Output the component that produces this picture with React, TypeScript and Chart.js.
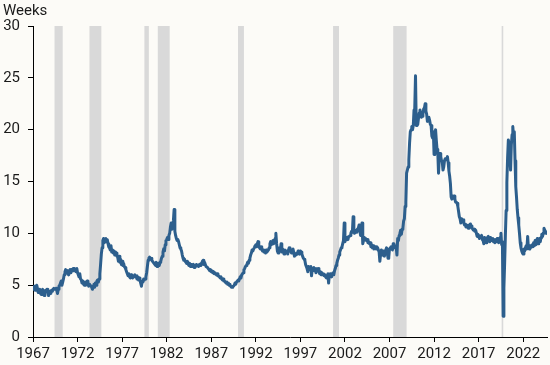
import React, { useEffect, useRef } from "react";
import { Chart, registerables } from "chart.js";

Chart.register(...registerables);

// Median duration of unemployment, weeks, monthly from Jan 1967
const firstYear = 1967;
const weeks1967to1976 = [
  4.5, 4.7, 4.6, 4.9, 4.4, 4.6, 4.8, 4.6, 4.9, 4.5, 4.7, 5.0,
  4.7, 4.3, 4.5, 4.6, 4.2, 4.1, 4.4, 4.6, 4.2, 4.0, 4.3, 4.5,
  4.4, 4.6, 4.3, 4.0, 4.3, 4.4, 4.2, 4.5, 4.4, 4.6, 4.7, 4.6,
  4.6, 4.7, 4.5, 4.2, 4.6, 4.9, 5.0, 5.2, 5.4, 5.0, 5.3, 5.6,
  6.0, 6.3, 6.5, 6.2, 6.4, 6.1, 6.0, 6.3, 6.5, 6.2, 6.4, 6.5,
  6.6, 6.4, 6.6, 6.5, 6.3, 6.6, 6.2, 6.0, 5.8, 6.1, 5.6, 5.5,
  5.2, 5.4, 5.1, 5.0, 5.3, 5.0, 5.2, 5.4, 5.1, 4.9, 5.1, 5.0,
  5.0, 4.8, 4.6, 4.9, 5.1, 4.8, 5.2, 5.0, 5.4, 5.5, 5.3, 5.6,
  6.1, 7.0, 8.0, 8.6, 9.3, 9.5, 9.1, 9.4, 9.5, 9.2, 9.4, 9.0,
  8.7, 8.6, 8.4, 8.8, 8.2, 8.4, 8.1, 8.3, 7.9, 8.2, 8.1, 7.8,
];
const weeks1977to1986 = [
  7.7, 7.3, 7.8, 7.2, 7.5, 7.0, 7.3, 6.9, 7.1, 6.8, 6.7, 6.5,
  6.3, 6.1, 5.9, 6.1, 5.8, 5.7, 6.0, 5.8, 5.7, 5.9, 5.8, 6.0,
  5.8, 5.9, 5.6, 5.8, 5.5, 5.7, 5.5, 5.2, 4.9, 5.4, 5.3, 5.6,
  5.5, 5.6, 5.8, 6.2, 6.8, 7.4, 7.6, 7.7, 7.5, 7.6, 7.4, 7.3,
  7.2, 7.1, 7.0, 6.9, 7.2, 6.8, 7.0, 7.1, 6.9, 7.2, 7.3, 7.6,
  7.8, 8.2, 8.5, 8.3, 8.9, 9.3, 9.4, 9.6, 9.4, 9.8, 10.0, 10.6,
  11.0, 10.4, 10.8, 11.2, 12.3, 10.2, 9.8, 9.5, 9.3, 9.4, 9.2, 8.9,
  8.6, 8.5, 8.3, 7.9, 7.6, 7.4, 7.5, 7.3, 7.2, 7.1, 7.3, 7.0,
  6.9, 7.1, 6.8, 7.0, 6.8, 6.9, 7.0, 6.7, 6.9, 6.8, 7.0, 6.9,
  6.9, 6.8, 7.0, 6.9, 7.1, 7.0, 7.3, 7.4, 7.0, 7.2, 7.0, 6.8,
];
const weeks1987to1996 = [
  6.8, 6.7, 6.6, 6.5, 6.4, 6.5, 6.3, 6.4, 6.2, 6.3, 6.1, 6.2,
  6.1, 6.0, 6.1, 5.9, 5.9, 5.8, 5.7, 5.8, 5.6, 5.5, 5.6, 5.4,
  5.4, 5.3, 5.2, 5.3, 5.1, 5.2, 5.0, 5.1, 4.9, 4.8, 4.8, 4.9,
  4.9, 5.0, 5.2, 5.1, 5.3, 5.4, 5.5, 5.4, 5.6, 5.8, 5.7, 6.0,
  6.1, 6.2, 6.5, 6.6, 6.8, 6.9, 7.0, 7.2, 7.1, 7.4, 7.6, 7.9,
  8.1, 8.4, 8.3, 8.5, 8.6, 8.8, 8.9, 8.7, 9.0, 9.2, 8.8, 8.6,
  8.5, 8.7, 8.5, 8.3, 8.4, 8.2, 8.3, 8.1, 8.4, 8.2, 8.3, 8.4,
  8.6, 9.0, 9.2, 8.9, 9.1, 9.3, 9.0, 9.2, 9.5, 10.0, 9.0, 8.3,
  8.1, 8.3, 8.6, 8.4, 9.0, 8.2, 8.5, 8.3, 8.0, 8.4, 8.1, 8.3,
  8.2, 8.0, 8.4, 8.6, 8.5, 8.3, 8.1, 8.4, 8.5, 8.2, 7.8, 8.0,
];
const weeks1997to2006 = [
  7.9, 8.1, 8.0, 8.3, 8.1, 8.0, 8.3, 8.2, 8.0, 7.8, 7.6, 7.5,
  7.4, 7.0, 6.8, 6.6, 6.3, 6.8, 6.7, 6.5, 6.8, 5.9, 6.6, 6.5,
  6.7, 6.4, 6.6, 6.2, 6.5, 6.4, 6.6, 6.3, 6.1, 6.3, 6.0, 6.2,
  6.0, 6.1, 5.9, 6.0, 5.8, 5.7, 5.9, 6.1, 5.2, 6.0, 6.1, 5.9,
  5.8, 6.1, 6.2, 6.0, 6.4, 6.6, 6.9, 7.1, 7.4, 7.6, 7.9, 8.2,
  8.4, 8.6, 8.7, 9.0, 9.3, 11.0, 9.2, 9.4, 9.6, 9.5, 9.4, 9.7,
  9.7, 9.8, 10.0, 10.2, 10.1, 11.6, 10.3, 10.0, 10.2, 10.3, 10.1, 10.4,
  10.5, 10.8, 10.3, 9.8, 9.9, 11.0, 9.0, 9.3, 9.6, 9.5, 9.4, 9.3,
  9.4, 9.1, 9.2, 9.0, 9.1, 8.7, 8.9, 8.6, 8.8, 8.5, 8.6, 8.7,
  8.5, 8.7, 8.6, 8.4, 8.2, 7.3, 8.0, 8.4, 8.1, 7.9, 8.3, 7.8,
];
const weeks2007to2016 = [
  8.0, 8.4, 8.6, 8.2, 7.6, 7.7, 8.5, 8.6, 8.7, 8.5, 8.4, 9.0,
  8.6, 8.8, 8.6, 8.7, 7.9, 9.5, 9.3, 9.8, 10.0, 10.3, 9.9, 10.4,
  10.5, 11.2, 11.4, 12.6, 13.0, 15.8, 16.1, 16.4, 17.1, 18.7, 19.8, 20.0,
  20.3, 20.0, 20.4, 21.9, 22.1, 25.2, 20.4, 21.3, 20.5, 21.1, 21.6, 21.9,
  21.6, 21.2, 21.3, 21.5, 22.0, 22.1, 22.5, 21.8, 21.5, 20.8, 20.9, 21.2,
  20.9, 20.5, 20.4, 19.4, 19.2, 19.8, 17.6, 18.4, 20.0, 19.0, 18.1, 17.8,
  15.8, 17.2, 17.7, 17.4, 17.0, 16.9, 16.1, 16.4, 17.0, 17.2, 17.2, 17.1,
  17.4, 16.8, 16.0, 15.5, 14.8, 13.5, 13.3, 13.6, 13.4, 13.6, 13.3, 13.0,
  13.0, 12.9, 12.6, 12.1, 11.6, 11.4, 11.0, 11.4, 11.2, 11.3, 11.0, 10.8,
  10.9, 10.6, 10.8, 10.7, 10.5, 10.8, 10.6, 10.9, 10.7, 10.5, 10.4, 10.3,
];
const weeks2017to2025 = [
  10.4, 10.2, 10.3, 10.0, 9.7, 9.9, 9.8, 9.5, 9.7, 9.6, 9.8, 9.4,
  9.3, 9.0, 9.6, 9.4, 9.1, 9.5, 9.6, 9.7, 9.3, 9.2, 9.6, 9.4,
  9.3, 9.5, 9.2, 9.4, 9.1, 9.3, 9.2, 9.5, 9.3, 9.1, 9.4, 9.6,
  10.0, 8.9, 9.2, 2.0, 4.7, 7.1, 9.8, 12.2, 14.9, 17.3, 19.0, 18.6,
  17.5, 16.1, 18.5, 19.5, 20.3, 19.4, 19.8, 17.0, 14.5, 13.5, 12.3, 11.5,
  10.8, 10.0, 9.1, 8.6, 8.3, 8.1, 8.0, 8.5, 8.3, 8.6, 8.8, 8.5,
  9.7, 8.6, 8.5, 8.8, 8.6, 8.8, 8.9, 8.7, 9.1, 8.8, 9.3, 8.9,
  9.3, 9.5, 9.0, 9.2, 9.5, 9.2, 9.6, 9.9, 9.7, 10.0, 10.5, 10.3,
  10.2, 10.0,
];

// NBER recessions (decimal year of peak month, trough month)
const recessionStarts = [1969 + 11 / 12, 1973 + 10 / 12, 1980, 1981 + 6 / 12, 1990 + 6 / 12, 2001 + 2 / 12, 2007 + 11 / 12, 2020 + 1 / 12];
const recessionEnds = [1970 + 10 / 12, 1975 + 2 / 12, 1980 + 6 / 12, 1982 + 10 / 12, 1991 + 2 / 12, 2001 + 10 / 12, 2009 + 5 / 12, 2020 + 3 / 12];

const tickYears = [1967, 1972, 1977, 1982, 1987, 1992, 1997, 2002, 2007, 2012, 2017, 2022];
const yTicks = [0, 5, 10, 15, 20, 25, 30];
const yTitle = "Weeks";

const BG = "#fcfbf7";
const FONT = "Roboto, 'Noto Sans', sans-serif";

export default function App() {
  const ref = useRef<HTMLCanvasElement | null>(null);

  useEffect(() => {
    const all = [
      ...weeks1967to1976,
      ...weeks1977to1986,
      ...weeks1987to1996,
      ...weeks1997to2006,
      ...weeks2007to2016,
      ...weeks2017to2025,
    ];
    const points = all.map((v, i) => ({ x: firstYear + i / 12, y: v }));

    const bgPlugin = {
      id: "bg",
      beforeDraw(chart: any) {
        const c = chart.ctx;
        c.save();
        c.fillStyle = BG;
        c.fillRect(0, 0, chart.width, chart.height);
        c.restore();
      },
    };

    const recessionPlugin = {
      id: "recessions",
      beforeDatasetsDraw(chart: any) {
        const { ctx, chartArea, scales } = chart;
        const xs = scales.x;
        ctx.save();
        ctx.beginPath();
        ctx.rect(chartArea.left, chartArea.top, chartArea.right - chartArea.left, chartArea.bottom - chartArea.top);
        ctx.clip();
        ctx.fillStyle = "#d9d9d9";
        recessionStarts.forEach((s, i) => {
          const x1 = xs.getPixelForValue(s);
          const x2 = xs.getPixelForValue(recessionEnds[i]);
          const w = Math.max(x2 - x1, 1.6);
          ctx.fillRect(x1, chartArea.top, w, chartArea.bottom - chartArea.top);
        });
        ctx.restore();
      },
    };

    const titlePlugin = {
      id: "ytitle",
      afterDraw(chart: any) {
        const c = chart.ctx;
        c.save();
        c.font = `15px ${FONT}`;
        c.fillStyle = "#1a1a1a";
        c.textAlign = "left";
        c.textBaseline = "alphabetic";
        c.fillText(yTitle, 3, 14.5);
        c.restore();
      },
    };

    const chart = new Chart(ref.current as HTMLCanvasElement, {
      type: "line",
      data: {
        datasets: [
          {
            data: points,
            borderColor: "#2d5f8d",
            borderWidth: 3,
            borderJoinStyle: "round",
            borderCapStyle: "round",
            pointRadius: 0,
            tension: 0,
            fill: false,
          },
        ],
      },
      options: {
        animation: false,
        responsive: true,
        maintainAspectRatio: false,
        layout: { padding: { top: 26, right: 3, left: 0, bottom: 0 } },
        plugins: { legend: { display: false }, tooltip: { enabled: false } },
        scales: {
          x: {
            type: "linear",
            min: 1967.5,
            max: 2025.17,
            afterBuildTicks: (scale: any) => {
              scale.ticks = tickYears.map((y) => ({ value: y + 0.5 }));
            },
            afterFit: (scale: any) => {
              scale.height = 28;
            },
            ticks: {
              autoSkip: false,
              maxRotation: 0,
              minRotation: 0,
              padding: 3,
              color: "#1a1a1a",
              font: { family: FONT, size: 15 },
              callback: (v: any) => String(Math.round(Number(v) - 0.5)),
            },
            grid: { drawOnChartArea: false, drawTicks: true, tickLength: 5, color: "#000", lineWidth: 1 },
            border: { display: true, color: "#000", width: 1 },
          },
          y: {
            min: 0,
            max: 30,
            afterBuildTicks: (scale: any) => {
              scale.ticks = yTicks.map((v) => ({ value: v }));
            },
            afterFit: (scale: any) => {
              scale.width = 33;
            },
            ticks: {
              padding: 8,
              color: "#1a1a1a",
              font: { family: FONT, size: 15 },
            },
            grid: { drawOnChartArea: false, drawTicks: true, tickLength: 5, color: "#000", lineWidth: 1 },
            border: { display: true, color: "#000", width: 1 },
          },
        },
      },
      plugins: [bgPlugin, recessionPlugin, titlePlugin],
    });

    return () => chart.destroy();
  }, []);

  return (
    <div style={{ position: "fixed", left: 0, top: 0, width: 550, height: 365, background: BG }}>
      <canvas ref={ref} />
    </div>
  );
}
